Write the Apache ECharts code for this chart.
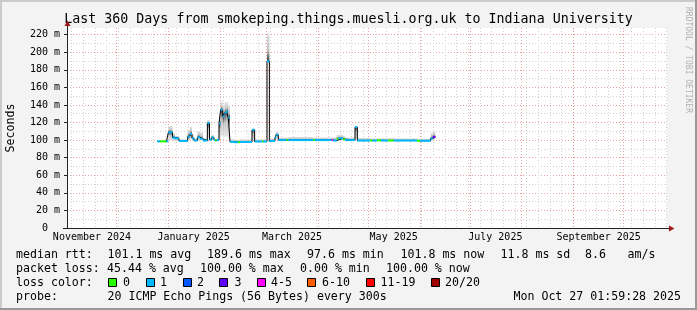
<!DOCTYPE html>
<html><head><meta charset="utf-8">
<script src="https://cdn.jsdelivr.net/npm/echarts@6/dist/echarts.min.js"></script>
<style>html,body{margin:0;padding:0;background:#f3f3f3}#c{width:697px;height:310px}</style>
</head><body><div id="c"></div><script>
// ---- time range ----
const startTime = '2024-11-01T02:00:00Z';
const endTime = '2025-10-27T02:00:00Z';
const yMax = 227.5;

// ---- median rtt segments (each value holds from its start to the next start) ----
const segStart = [
 '2024-12-25T02:00:00Z','2024-12-26T20:00:00Z','2024-12-30T19:00:00Z','2024-12-31T21:00:00Z','2025-01-03T09:00:00Z',
 '2025-01-04T21:00:00Z','2025-01-07T07:00:00Z','2025-01-12T12:00:00Z','2025-01-13T21:00:00Z','2025-01-15T02:00:00Z',
 '2025-01-16T07:00:00Z','2025-01-18T07:00:00Z','2025-01-19T21:00:00Z','2025-01-21T16:00:00Z','2025-01-24T07:00:00Z',
 '2025-01-25T14:00:00Z','2025-01-26T21:00:00Z','2025-01-28T07:00:00Z','2025-01-28T21:00:00Z','2025-01-29T21:00:00Z',
 '2025-01-31T07:00:00Z','2025-02-01T07:00:00Z','2025-02-02T12:00:00Z','2025-02-03T16:00:00Z','2025-02-04T21:00:00Z',
 '2025-02-05T21:00:00Z','2025-02-06T21:00:00Z','2025-02-09T07:00:00Z','2025-02-11T16:00:00Z','2025-02-12T21:00:00Z',
 '2025-02-20T02:00:00Z','2025-02-21T16:00:00Z','2025-02-26T02:00:00Z','2025-02-26T23:00:00Z','2025-03-01T02:00:00Z',
 '2025-03-02T12:00:00Z','2025-03-05T21:00:00Z','2025-03-06T16:00:00Z','2025-03-07T21:00:00Z','2025-03-12T21:00:00Z',
 '2025-03-13T21:00:00Z','2025-03-28T21:00:00Z','2025-03-29T21:00:00Z','2025-04-08T21:00:00Z','2025-04-09T16:00:00Z',
 '2025-04-11T21:00:00Z','2025-04-12T21:00:00Z','2025-04-15T16:00:00Z','2025-04-16T21:00:00Z','2025-04-22T21:00:00Z',
 '2025-04-24T07:00:00Z','2025-05-01T21:00:00Z','2025-05-03T07:00:00Z','2025-05-06T02:00:00Z','2025-05-08T12:00:00Z',
 '2025-05-12T16:00:00Z','2025-05-16T02:00:00Z','2025-05-30T02:00:00Z','2025-05-31T21:00:00Z','2025-06-07T07:00:00Z',
 '2025-06-08T12:00:00Z'
];
const segEnd = '2025-06-10T02:00:00Z';
const medianMs = [
 98.5,98.5,98.6,108.7,103.0, 102.0,99.0,104.0,107.0,102.0, 99.5,103.0,101.5,99.5,119.3,
 100.5,103.0,100.0,99.5,100.0, 119.0,134.5,127.0,131.0,132.5, 125.5,98.0,97.6,97.6,97.8,
 111.7,98.4,98.4,98.4,189.6, 99.0,103.0,106.0,100.0,100.0, 100.0,100.0,100.0,100.0,99.5,
 101.5,102.0,101.0,100.0,114.7, 99.5,99.5,99.5,99.8,99.5, 99.5,99.5,99.2,99.3,101.8, 103.5
];
const smokeLoMs = [
 98.0,98.0,98.0,100.0,99.0, 99.0,98.0,100.0,101.0,99.0, 98.5,100.0,99.5,98.5,101.0,
 99.0,100.0,99.0,98.5,99.0, 101.0,105.0,103.0,104.0,104.0, 102.0,97.5,97.0,97.0,97.0,
 100.0,97.5,97.5,97.5,188.0, 98.0,100.0,101.0,99.0,99.0, 99.0,99.0,99.0,99.0,98.5,
 99.5,100.0,99.5,99.0,101.0, 98.5,98.5,98.5,98.5,98.5, 98.5,98.5,98.5,98.5,99.5, 100.0
];
const smokeHiMs = [
 100.0,100.0,100.0,116.0,108.0, 105.0,101.0,112.0,115.0,106.0, 102.0,110.0,109.0,102.0,123.0,
 103.0,106.0,102.0,101.5,102.0, 130.0,144.0,140.0,143.0,143.0, 140.0,101.0,100.5,100.5,101.0,
 113.0,101.0,101.0,101.0,222.0, 102.0,108.0,110.0,103.0,103.0, 103.5,103.0,103.0,103.0,103.0,
 106.0,106.0,105.0,103.0,116.0, 102.5,102.0,102.0,102.0,102.0, 102.5,102.0,101.5,101.5,108.0, 110.0
];
const lossIdx = [
 1,0,1,1,1, 1,1,1,1,1, 1,1,1,1,1,
 1,1,1,0,1, 1,1,1,1,1, 1,1,1,0,1,
 1,1,0,1,1, 1,1,1,1,0, 1,0,1,4,1,
 0,1,0,1,1, 1,0,1,0,1, 0,1,0,1,1, 3
];
const lossLabels = ['0','1','2','3','4-5','6-10','11-19','20/20'];
const lossColors = ['#26ff00','#00b8ff','#0059ff','#5e00ff','#ff00ff','#ff5e00','#ff0000','#a10000'];

// ---- time grid ----
const monthLines = ['2024-12-01','2025-01-01','2025-02-01','2025-03-01','2025-04-01','2025-05-01',
 '2025-06-01','2025-07-01','2025-08-01','2025-09-01','2025-10-01'];
const weekLines = ['2024-11-04','2024-11-11','2024-11-18','2024-11-25','2024-12-02','2024-12-09','2024-12-16',
 '2024-12-23','2024-12-30','2025-01-06','2025-01-13','2025-01-20','2025-01-27','2025-02-03','2025-02-10',
 '2025-02-17','2025-02-24','2025-03-03','2025-03-10','2025-03-17','2025-03-24','2025-03-31','2025-04-07',
 '2025-04-14','2025-04-21','2025-04-28','2025-05-05','2025-05-12','2025-05-19','2025-05-26','2025-06-02',
 '2025-06-09','2025-06-16','2025-06-23','2025-06-30','2025-07-07','2025-07-14','2025-07-21','2025-07-28',
 '2025-08-04','2025-08-11','2025-08-18','2025-08-25','2025-09-01','2025-09-08','2025-09-15','2025-09-22',
 '2025-09-29','2025-10-06','2025-10-13','2025-10-20','2025-10-27'];
const monthLabelAt = ['2024-11-16T02:00:00Z','2025-01-16T02:00:00Z','2025-03-16T02:00:00Z',
 '2025-05-16T02:00:00Z','2025-07-16T02:00:00Z','2025-09-16T02:00:00Z'];
const monthLabels = ['November 2024','January 2025','March 2025','May 2025','July 2025','September 2025'];

// ---- texts ----
const titleText = 'Last 360 Days from smokeping.things.muesli.org.uk to Indiana University';
const row1 = [['median rtt:',16],['101.1 ms avg',107.5],['189.6 ms max',207],['97.6 ms min',307],
 ['101.8 ms now',400.5],['11.8 ms sd',500.5],['8.6',585],['am/s',627.5]];
const row2 = [['packet loss:',16],['45.44 % avg',107],['100.00 % max',200],['0.00 % min',300],['100.00 % now',386]];
const row3Box = [108,145.5,182.5,219,257,307,366,431];
const row3Lab = [123,160,197,234.5,271,322,380.5,445];

const MONO = '"DejaVu Sans Mono", monospace';
const T = s => Date.parse(s.length <= 10 ? s + 'T00:00:00Z' : s);
const xMin = T(startTime), xMax = T(endTime);

const segRows = segStart.map((s, i) => [T(s), i + 1 < segStart.length ? T(segStart[i + 1]) : T(segEnd),
  smokeLoMs[i], smokeHiMs[i], medianMs[i], lossIdx[i]]);
const lineData = segStart.map((s, i) => [T(s), medianMs[i]]).concat([[T(segEnd), medianMs[medianMs.length - 1]]]);

function vGrid(color) {
  return function (params, api) {
    const t = api.value(0);
    const b = api.coord([t, 0]), tp = api.coord([t, yMax]);
    const x = Math.round(b[0] - 0.5) + 0.5;
    return {type: 'line', shape: {x1: x, y1: tp[1], x2: x, y2: b[1]},
      style: {stroke: color, lineWidth: 1, lineDash: [1, 2]}};
  };
}

const chart = echarts.init(document.getElementById('c'), null, {renderer: 'canvas', width: 697, height: 310});
const gText = (text, x, y, extra) => Object.assign({type: 'text', x, y, z: 50,
  style: {text, font: '11.6px ' + MONO, fill: '#000', align: 'left', verticalAlign: 'middle'}}, extra || {});

const graphics = [
  {type: 'rect', shape: {x: 0, y: 0, width: 697, height: 2}, style: {fill: '#cbcbcb'}, z: 40},
  {type: 'rect', shape: {x: 0, y: 0, width: 2, height: 310}, style: {fill: '#cbcbcb'}, z: 40},
  {type: 'rect', shape: {x: 0, y: 308, width: 697, height: 2}, style: {fill: '#999'}, z: 40},
  {type: 'rect', shape: {x: 695, y: 0, width: 2, height: 310}, style: {fill: '#999'}, z: 40},
  {type: 'line', shape: {x1: 67.5, y1: 28, x2: 67.5, y2: 24}, style: {stroke: '#222', lineWidth: 1}, z: 40},
  {type: 'line', shape: {x1: 63, y1: 228.5, x2: 67, y2: 228.5}, style: {stroke: '#222', lineWidth: 1}, z: 40},
  {type: 'line', shape: {x1: 667, y1: 228.5, x2: 670, y2: 228.5}, style: {stroke: '#222', lineWidth: 1}, z: 40},
  {type: 'polygon', shape: {points: [[64.5, 26], [70.5, 26], [67.5, 20.5]]}, style: {fill: '#9e1a1a'}, z: 41},
  {type: 'polygon', shape: {points: [[669, 225.5], [669, 231.5], [674.5, 228.5]]}, style: {fill: '#9e1a1a'}, z: 41},
  {type: 'text', x: 11, y: 128, rotation: Math.PI / 2, z: 50,
    style: {text: 'Seconds', font: '11.6px ' + MONO, fill: '#000', align: 'center', verticalAlign: 'middle'}},
  {type: 'text', x: 688, y: 60, rotation: -Math.PI / 2, z: 50,
    style: {text: 'RRDTOOL / TOBI OETIKER', font: '8px ' + MONO, fill: '#b0b0b0', align: 'center', verticalAlign: 'middle'}}
];
row1.forEach(([t, x]) => graphics.push(gText(t, x, 254.5)));
row2.forEach(([t, x]) => graphics.push(gText(t, x, 268.5)));
graphics.push(gText('loss color:', 16, 282.5));
lossLabels.forEach((lab, i) => {
  graphics.push({type: 'rect', z: 50, shape: {x: Math.round(row3Box[i]) + 0.5, y: 278.5, width: 8, height: 8},
    style: {fill: lossColors[i], stroke: '#000', lineWidth: 1}});
  graphics.push(gText(lab, row3Lab[i], 282.5));
});
graphics.push(gText('probe:', 16, 296.5));
graphics.push(gText('20 ICMP Echo Pings (56 Bytes) every 300s', 107.5, 296.5));
graphics.push(gText('Mon Oct 27 01:59:28 2025', 681, 296.5, {style: {text: 'Mon Oct 27 01:59:28 2025',
  font: '11.6px ' + MONO, fill: '#000', align: 'right', verticalAlign: 'middle'}}));

chart.setOption({
  animation: false,
  backgroundColor: '#f3f3f3',
  title: {text: titleText, left: 'center', top: 12, padding: 0,
    textStyle: {fontFamily: MONO, fontSize: 13.3, fontWeight: 'normal', color: '#000', lineHeight: 16}},
  grid: {left: 67, top: 28, width: 600, height: 200, show: true, backgroundColor: '#fff', borderWidth: 0},
  xAxis: {type: 'time', min: xMin, max: xMax,
    axisLine: {show: true, onZero: false, lineStyle: {color: '#222', width: 1}},
    axisTick: {show: false}, axisLabel: {show: false}, splitLine: {show: false}},
  yAxis: {type: 'value', min: 0, max: yMax, interval: 20,
    axisLine: {show: true, lineStyle: {color: '#222', width: 1}},
    axisTick: {show: true, length: 3, lineStyle: {color: '#222'}},
    minorTick: {show: false, splitNumber: 2},
    axisLabel: {showMaxLabel: false, margin: 7, fontFamily: MONO, fontSize: 10, color: '#000',
      formatter: v => v === 0 ? '0  ' : v + ' m'},
    splitLine: {show: true, showMaxLine: false, lineStyle: {color: 'rgba(222,100,100,0.6)', width: 1, type: [1, 2]}},
    minorSplitLine: {show: true, lineStyle: {color: '#d2d2d2', width: 1, type: [1, 2]}}},
  graphic: graphics,
  series: [
    {type: 'custom', name: 'week grid', silent: true, z: 1, data: weekLines.map(d => [T(d), 0]), renderItem: vGrid('#d2d2d2')},
    {type: 'custom', name: 'month grid', silent: true, z: 1, data: monthLines.map(d => [T(d), 0]), renderItem: vGrid('rgba(222,100,100,0.6)')},
    {type: 'custom', name: 'month labels', silent: true, z: 5, clip: false,
      data: monthLabelAt.map((d, i) => [T(d), 0, i]),
      renderItem: (params, api) => {
        const p = api.coord([api.value(0), 0]);
        return {type: 'text', x: p[0], y: p[1] + 9.5,
          style: {text: monthLabels[api.value(2)], font: '10px ' + MONO, fill: '#000', align: 'center', verticalAlign: 'middle'}};
      }},
    {type: 'custom', name: 'smoke', silent: true, z: 2, data: segRows,
      renderItem: (params, api) => {
        const t0 = api.value(0), t1 = api.value(1), lo = api.value(2), hi = api.value(3), med = api.value(4);
        const a = api.coord([t0, hi]), b = api.coord([t1, lo]);
        const m = Math.min(1, Math.max(0, (hi - med) / (hi - lo)));
        return {type: 'rect', shape: {x: a[0], y: a[1], width: b[0] - a[0], height: b[1] - a[1]},
          style: {fill: new echarts.graphic.LinearGradient(0, 0, 0, 1, [
            {offset: 0, color: '#e2e2e2'}, {offset: m * 0.6, color: '#c4c4c4'}, {offset: m, color: '#3a3a3a'},
            {offset: m + (1 - m) * 0.4, color: '#c4c4c4'}, {offset: 1, color: '#e2e2e2'}])}};
      }},
    {type: 'line', name: 'median', step: 'end', data: lineData, showSymbol: false, symbol: 'none', z: 3,
      lineStyle: {color: '#000', width: 1}, silent: true},
    {type: 'custom', name: 'loss', silent: true, z: 4, data: segRows,
      renderItem: (params, api) => {
        const a = api.coord([api.value(0), api.value(4)]), b = api.coord([api.value(1), api.value(4)]);
        return {type: 'rect', shape: {x: a[0], y: a[1] - 1, width: b[0] - a[0], height: 2},
          style: {fill: lossColors[api.value(5)]}};
      }}
  ]
});
</script></body></html>
